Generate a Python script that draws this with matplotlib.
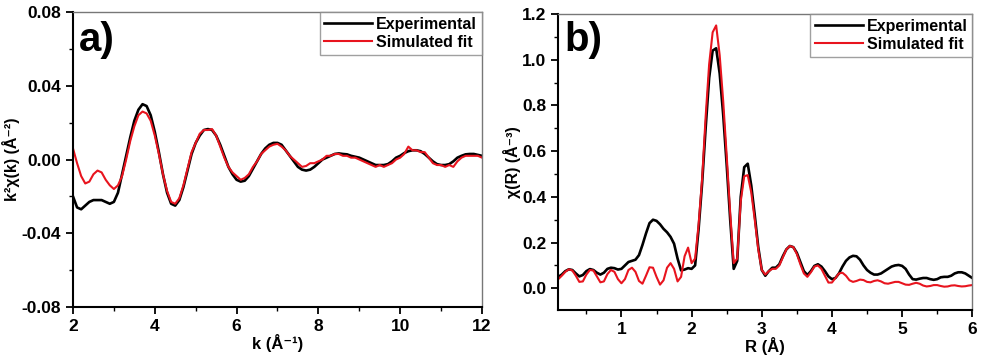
import numpy as np
import matplotlib
matplotlib.use('Agg')
from matplotlib import pyplot as plt
from matplotlib.ticker import MultipleLocator, FormatStrFormatter

plt.rcParams['font.family'] = ['Liberation Sans', 'DejaVu Sans']
plt.rcParams['font.weight'] = 'bold'
plt.rcParams['axes.unicode_minus'] = False

# ---- panel a: k-space, k = 2.0 ... 12.0 step 0.1 ----
k_values = np.round(np.arange(2.0, 12.01, 0.1), 1)

chi_k_exp = [
    -0.020, -0.026, -0.027, -0.025, -0.023, -0.022, -0.022, -0.022, -0.023, -0.024,
    -0.023, -0.018, -0.008, 0.002, 0.012, 0.021, 0.027, 0.030, 0.029, 0.024,
    0.015, 0.004, -0.008, -0.018, -0.024, -0.025, -0.022, -0.015, -0.006, 0.003,
    0.009, 0.013, 0.016, 0.0165, 0.016, 0.013, 0.008, 0.002, -0.004, -0.008,
    -0.011, -0.012, -0.0115, -0.009, -0.005, -0.001, 0.003, 0.006, 0.008, 0.009,
    0.009, 0.008, 0.005, 0.002, -0.001, -0.004, -0.0055, -0.006, -0.0055, -0.004,
    -0.002, 0.000, 0.001, 0.002, 0.003, 0.0033, 0.003, 0.0028, 0.002, 0.0015,
    0.001, 0.000, -0.001, -0.002, -0.003, -0.003, -0.003, -0.0025, -0.001, 0.001,
    0.002, 0.0035, 0.0045, 0.005, 0.005, 0.0045, 0.003, 0.001, -0.001, -0.0025,
    -0.003, -0.003, -0.0025, -0.001, 0.001, 0.002, 0.0028, 0.003, 0.003, 0.0025,
    0.002,
]

chi_k_fit = [
    0.006, -0.002, -0.009, -0.013, -0.012, -0.008, -0.006, -0.007, -0.011, -0.014,
    -0.016, -0.014, -0.009, 0.000, 0.010, 0.018, 0.024, 0.026, 0.025, 0.021,
    0.013, 0.003, -0.008, -0.017, -0.023, -0.024, -0.021, -0.014, -0.005, 0.004,
    0.009, 0.014, 0.016, 0.016, 0.0165, 0.013, 0.007, 0.001, -0.004, -0.007,
    -0.009, -0.011, -0.010, -0.008, -0.004, -0.001, 0.003, 0.005, 0.007, 0.008,
    0.0085, 0.007, 0.005, 0.002, 0.000, -0.002, -0.004, -0.0035, -0.002, -0.002,
    -0.001, 0.000, 0.002, 0.002, 0.003, 0.003, 0.002, 0.002, 0.001, 0.001,
    0.000, -0.001, -0.002, -0.003, -0.004, -0.003, -0.004, -0.003, -0.002, 0.000,
    0.001, 0.003, 0.007, 0.005, 0.005, 0.004, 0.004, 0.001, -0.002, -0.003,
    -0.003, -0.004, -0.003, -0.004, -0.001, 0.001, 0.002, 0.002, 0.002, 0.002,
    0.001,
]

# ---- panel b: R-space, R = 0.10 ... 6.00 step 0.05 ----
r_values = np.round(np.arange(0.10, 6.001, 0.05), 2)

chi_r_exp = [
    0.050, 0.060, 0.075, 0.083, 0.080, 0.065, 0.052, 0.058, 0.075, 0.084,
    0.080, 0.068, 0.060, 0.068, 0.085, 0.090, 0.088, 0.082, 0.085, 0.100,
    0.115, 0.120, 0.125, 0.145, 0.190, 0.240, 0.285, 0.300, 0.295, 0.280,
    0.260, 0.245, 0.225, 0.195, 0.130, 0.078, 0.082, 0.088, 0.085, 0.100,
    0.260, 0.460, 0.700, 0.920, 1.040, 1.050, 0.940, 0.760, 0.540, 0.300,
    0.085, 0.120, 0.400, 0.530, 0.545, 0.450, 0.320, 0.180, 0.080, 0.055,
    0.075, 0.090, 0.090, 0.105, 0.140, 0.170, 0.185, 0.180, 0.155, 0.115,
    0.075, 0.058, 0.075, 0.098, 0.105, 0.095, 0.075, 0.052, 0.040, 0.045,
    0.065, 0.095, 0.120, 0.135, 0.142, 0.140, 0.125, 0.100, 0.080, 0.068,
    0.060, 0.060, 0.065, 0.075, 0.085, 0.095, 0.100, 0.102, 0.098, 0.085,
    0.060, 0.040, 0.038, 0.042, 0.045, 0.045, 0.040, 0.037, 0.040, 0.048,
    0.050, 0.050, 0.055, 0.065, 0.070, 0.070, 0.065, 0.055, 0.045,
]

chi_r_fit = [
    0.040, 0.055, 0.072, 0.083, 0.078, 0.055, 0.028, 0.030, 0.060, 0.080,
    0.078, 0.052, 0.026, 0.030, 0.062, 0.080, 0.072, 0.040, 0.022, 0.040,
    0.080, 0.090, 0.072, 0.032, 0.020, 0.055, 0.092, 0.090, 0.050, 0.016,
    0.035, 0.090, 0.110, 0.085, 0.030, 0.050, 0.140, 0.178, 0.110, 0.130,
    0.280, 0.480, 0.750, 0.980, 1.120, 1.150, 1.020, 0.820, 0.580, 0.330,
    0.110, 0.130, 0.380, 0.490, 0.495, 0.420, 0.300, 0.170, 0.080, 0.060,
    0.075, 0.085, 0.085, 0.100, 0.135, 0.170, 0.185, 0.180, 0.150, 0.105,
    0.065, 0.050, 0.070, 0.095, 0.100, 0.085, 0.055, 0.025, 0.025, 0.045,
    0.065, 0.068, 0.055, 0.035, 0.028, 0.032, 0.038, 0.036, 0.028, 0.026,
    0.032, 0.035, 0.030, 0.022, 0.020, 0.024, 0.028, 0.028, 0.022, 0.016,
    0.015, 0.020, 0.024, 0.020, 0.012, 0.008, 0.010, 0.014, 0.014, 0.010,
    0.007, 0.008, 0.012, 0.013, 0.010, 0.008, 0.009, 0.012, 0.014,
]

RED = '#e8141e'


def style_axis(ax):
    for side in ['left', 'bottom']:
        ax.spines[side].set_linewidth(1.5)
        ax.spines[side].set_color('black')
    for side in ['top', 'right']:
        ax.spines[side].set_linewidth(1.0)
        ax.spines[side].set_color('#777777')
    ax.tick_params(which='major', direction='out', length=5, width=1.3, labelsize=12.5)
    ax.tick_params(which='minor', direction='out', length=3, width=1.0)
    ax.tick_params(top=False, right=False)
    for lbl in ax.get_xticklabels() + ax.get_yticklabels():
        lbl.set_fontweight('bold')


def add_legend(ax):
    leg = ax.legend(loc='upper right', fontsize=11.5, frameon=True, fancybox=False,
                    borderaxespad=0.0, handlelength=3.0, handletextpad=0.25,
                    borderpad=0.3, labelspacing=0.2)
    leg.get_frame().set_edgecolor('#888888')
    leg.get_frame().set_linewidth(1.0)
    for t in leg.get_texts():
        t.set_fontweight('bold')


fig = plt.figure(figsize=(9.81, 3.59), dpi=100)
ax_a = fig.add_axes([0.0744, 0.1448, 0.4169, 0.8218])
ax_b = fig.add_axes([0.5691, 0.1365, 0.4220, 0.8245])

# panel a
ax_a.plot(k_values, chi_k_exp, color='black', lw=1.9, label='Experimental')
ax_a.plot(k_values, chi_k_fit, color=RED, lw=1.5, label='Simulated fit')
ax_a.set_xlim(2, 12)
ax_a.set_ylim(-0.08, 0.08)
ax_a.xaxis.set_major_locator(MultipleLocator(2))
ax_a.xaxis.set_minor_locator(MultipleLocator(1))
ax_a.yaxis.set_major_locator(MultipleLocator(0.04))
ax_a.yaxis.set_minor_locator(MultipleLocator(0.02))
ax_a.yaxis.set_major_formatter(FormatStrFormatter('%.2f'))
ax_a.set_xlabel('k (Å⁻¹)', fontsize=12, fontweight='bold', labelpad=0)
ax_a.set_ylabel('k²χ(k) (Å⁻²)', fontsize=11.5, fontweight='bold', labelpad=1)
style_axis(ax_a)
add_legend(ax_a)
ax_a.text(0.015, 0.97, 'a)', transform=ax_a.transAxes, fontsize=29,
          fontweight='bold', ha='left', va='top')

# panel b
ax_b.plot(r_values, chi_r_exp, color='black', lw=1.9, label='Experimental')
ax_b.plot(r_values, chi_r_fit, color=RED, lw=1.5, label='Simulated fit')
ax_b.set_xlim(0.1, 6)
ax_b.set_ylim(-0.095, 1.2)
ax_b.xaxis.set_major_locator(MultipleLocator(1))
ax_b.xaxis.set_minor_locator(MultipleLocator(0.5))
ax_b.yaxis.set_major_locator(MultipleLocator(0.2))
ax_b.yaxis.set_minor_locator(MultipleLocator(0.1))
ax_b.yaxis.set_major_formatter(FormatStrFormatter('%.1f'))
ax_b.set_xlabel('R (Å)', fontsize=12, fontweight='bold', labelpad=0)
ax_b.set_ylabel('χ(R) (Å⁻³)', fontsize=11.5, fontweight='bold', labelpad=1)
style_axis(ax_b)
add_legend(ax_b)
ax_b.text(0.015, 0.975, 'b)', transform=ax_b.transAxes, fontsize=29,
          fontweight='bold', ha='left', va='top')

fig.savefig('out.png', dpi=100)
